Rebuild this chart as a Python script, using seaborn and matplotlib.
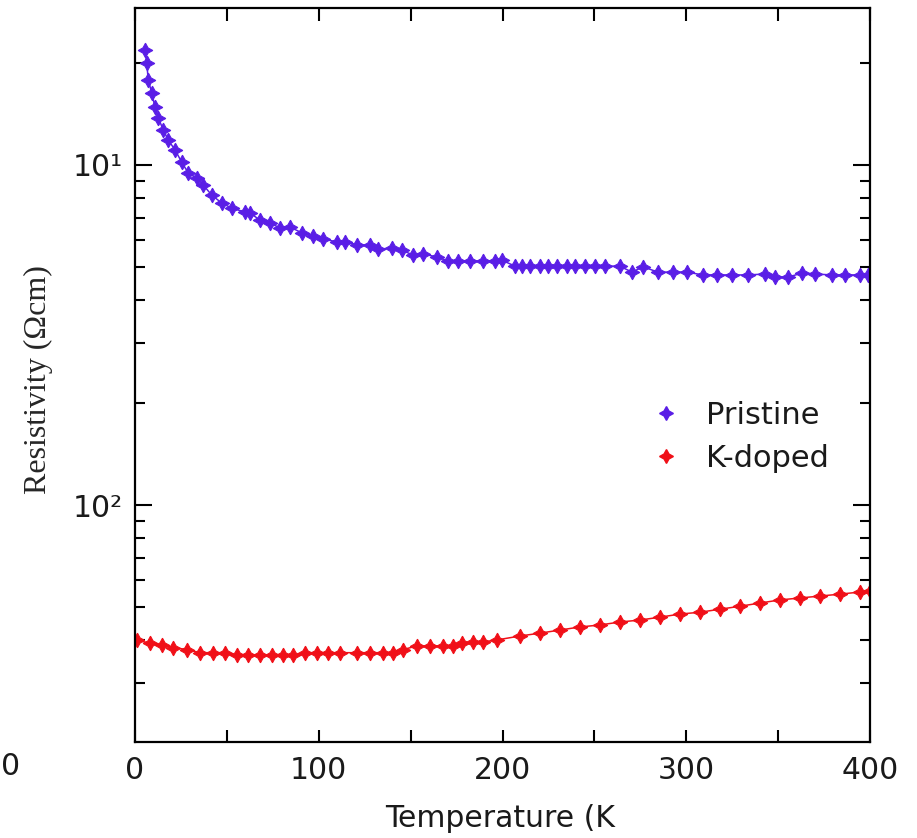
import matplotlib
matplotlib.use("Agg")
import matplotlib.pyplot as plt
from matplotlib.lines import Line2D
from matplotlib.ticker import FixedLocator, FixedFormatter, MultipleLocator, LogLocator, NullFormatter
import numpy as np
import pandas as pd
import seaborn as sns

# ---- data ----
temp_pristine = [5.4, 6.4, 7.2, 9.1, 10.9, 12.7, 15.4, 18.1, 21.8, 25.4, 29.0, 33.6, 37.2,
                 41.7, 47.2, 52.6, 59.9, 62.6, 68.0, 73.5, 78.9, 84.4, 90.9, 96.9, 102.3,
                 109.9, 114.3, 120.8, 127.9, 132.2, 139.9, 145.3, 151.3, 156.7, 164.4, 170.3,
                 175.8, 182.3, 189.4, 195.9, 199.7, 206.8, 210.6, 215.0, 220.4, 224.8, 229.7,
                 235.1, 239.5, 244.9, 250.3, 255.8, 263.9, 270.5, 276.5, 284.6, 292.8, 300.4,
                 309.1, 316.7, 324.9, 333.6, 342.9, 348.3, 355.4, 363.0, 370.1, 379.3, 386.4,
                 394.6, 399.0]
rho_pristine = [0.218, 0.1995, 0.178, 0.163, 0.148, 0.1375, 0.1267, 0.1184, 0.1107, 0.102,
                0.0947, 0.0916, 0.0873, 0.0816, 0.0773, 0.0747, 0.0727, 0.0722, 0.0689, 0.0675,
                0.0653, 0.0657, 0.0631, 0.0618, 0.0606, 0.0594, 0.0594, 0.0582, 0.0582, 0.0566,
                0.0569, 0.0562, 0.0543, 0.0548, 0.0536, 0.0522, 0.0522, 0.0522, 0.0522, 0.0522,
                0.0525, 0.0504, 0.0504, 0.0504, 0.0504, 0.0504, 0.0504, 0.0504, 0.0504, 0.0504,
                0.0504, 0.0504, 0.0504, 0.0484, 0.0502, 0.0484, 0.0484, 0.0484, 0.0475, 0.0475,
                0.0475, 0.0475, 0.0478, 0.0468, 0.0468, 0.0481, 0.0478, 0.0475, 0.0475, 0.0475,
                0.0475]

temp_kdoped = [0.9, 8.2, 14.5, 20.8, 28.1, 35.4, 42.6, 49.0, 55.3, 61.7, 68.0, 74.4, 80.7,
               86.2, 92.5, 98.9, 105.2, 111.6, 120.7, 127.9, 135.1, 140.6, 146.0, 153.3, 160.5,
               167.8, 173.2, 177.8, 184.1, 189.6, 196.8, 209.5, 220.4, 231.3, 242.2, 253.1,
               264.0, 274.8, 285.7, 296.6, 307.5, 318.4, 329.3, 340.1, 351.0, 361.9, 372.8,
               383.7, 394.6, 400.0]
rho_kdoped = [0.00401, 0.00392, 0.00388, 0.00381, 0.00376, 0.00368, 0.00368, 0.00368, 0.00362,
              0.00362, 0.00362, 0.00362, 0.00362, 0.00362, 0.00368, 0.00368, 0.00368, 0.00368,
              0.00368, 0.00368, 0.00368, 0.00368, 0.00376, 0.00385, 0.00385, 0.00385, 0.00385,
              0.00392, 0.00396, 0.00396, 0.00401, 0.00412, 0.00420, 0.00429, 0.00438, 0.00444,
              0.00453, 0.00459, 0.00468, 0.00478, 0.00484, 0.00494, 0.00504, 0.00515, 0.00526,
              0.00533, 0.00540, 0.00547, 0.00555, 0.00558]

series_names = ["Pristine", "K-doped"]
series_colors = ["#5a1ee6", "#f01018"]
x_ticks = [0, 100, 200, 300, 400]
x_tick_labels = ["0", "100", "200", "300", "400"]
y_ticks = [0.1, 0.01]
y_tick_labels = ["10¹", "10²"]

df = pd.concat([
    pd.DataFrame({"T": temp_pristine, "rho": rho_pristine, "sample": series_names[0]}),
    pd.DataFrame({"T": temp_kdoped, "rho": rho_kdoped, "sample": series_names[1]}),
], ignore_index=True)

sns.set_theme(style="ticks")
plt.rcParams["font.family"] = ["DejaVu Sans"]

W, H = 917, 838
fig = plt.figure(figsize=(W / 100, H / 100), dpi=100)
fig.patch.set_facecolor("white")
ax = fig.add_axes([135 / W, 1 - 742 / H, (870 - 135) / W, (742 - 8) / H])

star = (4, 1, 0)
for name, col in zip(series_names, series_colors):
    sub = df[df["sample"] == name]
    sns.lineplot(data=sub, x="T", y="rho", ax=ax, color=col, marker=star,
                 markersize=10.5, markeredgecolor=col, markeredgewidth=0.8,
                 linewidth=1.1, estimator=None, sort=False, legend=False)

ax.set_yscale("log")
ax.set_xlim(0, 400)
ax.set_ylim(0.00201, 0.2895)

ax.xaxis.set_major_locator(FixedLocator(x_ticks))
ax.xaxis.set_major_formatter(FixedFormatter(x_tick_labels))
ax.xaxis.set_minor_locator(MultipleLocator(50))
ax.yaxis.set_major_locator(FixedLocator(y_ticks))
ax.yaxis.set_major_formatter(FixedFormatter(y_tick_labels))
ax.yaxis.set_minor_locator(LogLocator(base=10, subs=np.arange(2, 10)))
ax.yaxis.set_minor_formatter(NullFormatter())

ax.tick_params(axis="both", which="both", direction="in", top=True, right=True,
               colors="black", labelcolor="#1a1a1a", labelsize=21.5, width=1.5)
ax.tick_params(axis="x", which="both", length=9, pad=10)
ax.tick_params(axis="y", which="major", length=12, pad=9)
ax.tick_params(axis="y", which="minor", length=7)
for sp in ax.spines.values():
    sp.set_visible(True)
    sp.set_linewidth(1.6)
    sp.set_color("black")

ax.set_xlabel("")
ax.set_ylabel("")
fig.text(385 / W, 1 - 818 / H, "Temperature (K", fontsize=21.5, ha="left", va="center",
         color="#1a1a1a")
fig.text(38 / W, 1 - 380 / H, "Resistivity (Ωcm)", rotation=90, fontsize=23,
         family=["Liberation Serif", "DejaVu Serif"], ha="center", va="center")
fig.text(1 / W, 1 - 766 / H, "0", fontsize=21.5, ha="left", va="center", color="#1a1a1a")

handles = [Line2D([], [], linestyle="none", marker=star, markersize=10, color=c,
                  markeredgecolor=c) for c in series_colors]
leg = ax.legend(handles, series_names, loc="center left",
                bbox_to_anchor=((657 - 135) / (870 - 135), (742 - 437) / (742 - 8)),
                frameon=False, fontsize=22, handlelength=0.6, handletextpad=1.0,
                labelspacing=0.45, borderpad=0, borderaxespad=0)
for t in leg.get_texts():
    t.set_color("#1a1a1a")

fig.savefig("out.png", dpi=100, facecolor="white")
